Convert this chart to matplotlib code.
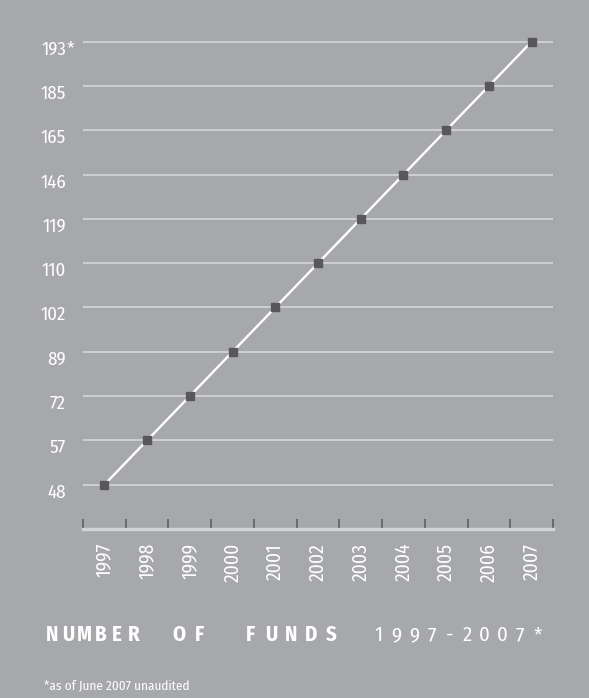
import numpy as np
import matplotlib
matplotlib.use("Agg")
from matplotlib import pyplot as plt
from matplotlib import transforms

# data
years = ["1997", "1998", "1999", "2000", "2001", "2002",
         "2003", "2004", "2005", "2006", "2007"]
funds = [48, 57, 72, 89, 102, 110, 119, 146, 165, 185, 193]
value_labels = ["48", "57", "72", "89", "102", "110",
                "119", "146", "165", "185", "193*"]

BG = "#a7a8ab"
GRID = "#d2d3d5"
DARK = "#58585a"
plt.rcParams["font.family"] = ["Fira Sans Condensed", "DejaVu Sans"]
plt.rcParams["font.weight"] = "normal"

fig = plt.figure(figsize=(5.89, 6.98), dpi=100, facecolor=BG)
W, H = 589, 698
ax = fig.add_axes([83 / W, 1 - 529 / H, (553 - 83) / W, (529 - 19.5) / H])
ax.set_facecolor(BG)

# values are spaced evenly on the chart, so y is the rank of each value
x = np.arange(len(years))
y = np.arange(len(funds))

for yy in y:
    ax.axhline(yy, color=GRID, lw=1.3, zorder=1)

ax.plot(x, y, color="white", lw=1.7, zorder=2)
ax.plot(x, y, ls="none", marker="s", ms=6, color=DARK, zorder=3)

ax.set_xlim(-0.5, len(years) - 0.5)
ax.set_ylim(-1, len(funds) - 0.5)

for s in ["top", "right", "left"]:
    ax.spines[s].set_visible(False)
ax.spines["bottom"].set_color(GRID)
ax.spines["bottom"].set_linewidth(2.4)

# year labels
ax.set_xticks(x)
ax.set_xticklabels(years, rotation=90, color="white", fontsize=14)
ax.tick_params(axis="x", which="major", length=0, pad=10)
# dark separators between the years
ax.set_xticks(np.arange(len(years) + 1) - 0.5, minor=True)
ax.tick_params(axis="x", which="minor", direction="in", length=7,
               width=1.1, color=DARK)

# value labels: right aligned numbers, asterisk hanging past the edge
ax.set_yticks([])
lab_tr = transforms.blended_transform_factory(fig.transFigure, ax.transData)
lab_tr = transforms.offset_copy(lab_tr, fig=fig, x=0, y=-13, units="dots")
for yy, lab in zip(y, value_labels):
    num = lab.rstrip("*")
    ax.text(66 / W, yy, num, transform=lab_tr, ha="right", va="baseline",
            color="white", fontsize=13.5)
    if lab.endswith("*"):
        ax.text(66.5 / W, yy, "*", transform=lab_tr, ha="left", va="baseline",
                color="white", fontsize=13.5)


def spaced(chars, x0, pitch, **kw):
    for i, ch in enumerate(chars):
        if ch != " ":
            fig.text((x0 + i * pitch) / W, 1 - 641 / H, ch, ha="center",
                     va="baseline", color="white", **kw)


# letter-spaced caption, one glyph at a time
spaced("NUMBER", 52, 16.3, fontsize=15, fontweight="bold")
spaced("OF", 179, 20.5, fontsize=15, fontweight="bold")
spaced("FUNDS", 250.5, 20.2, fontsize=15, fontweight="bold")
spaced("1997-2007*", 378.5, 17.7, fontsize=15)

fig.text(44 / W, 1 - 689 / H, "*as of June 2007 unaudited",
         color="white", fontsize=9.5, va="baseline")

fig.savefig("out.png", dpi=100, facecolor=BG)
